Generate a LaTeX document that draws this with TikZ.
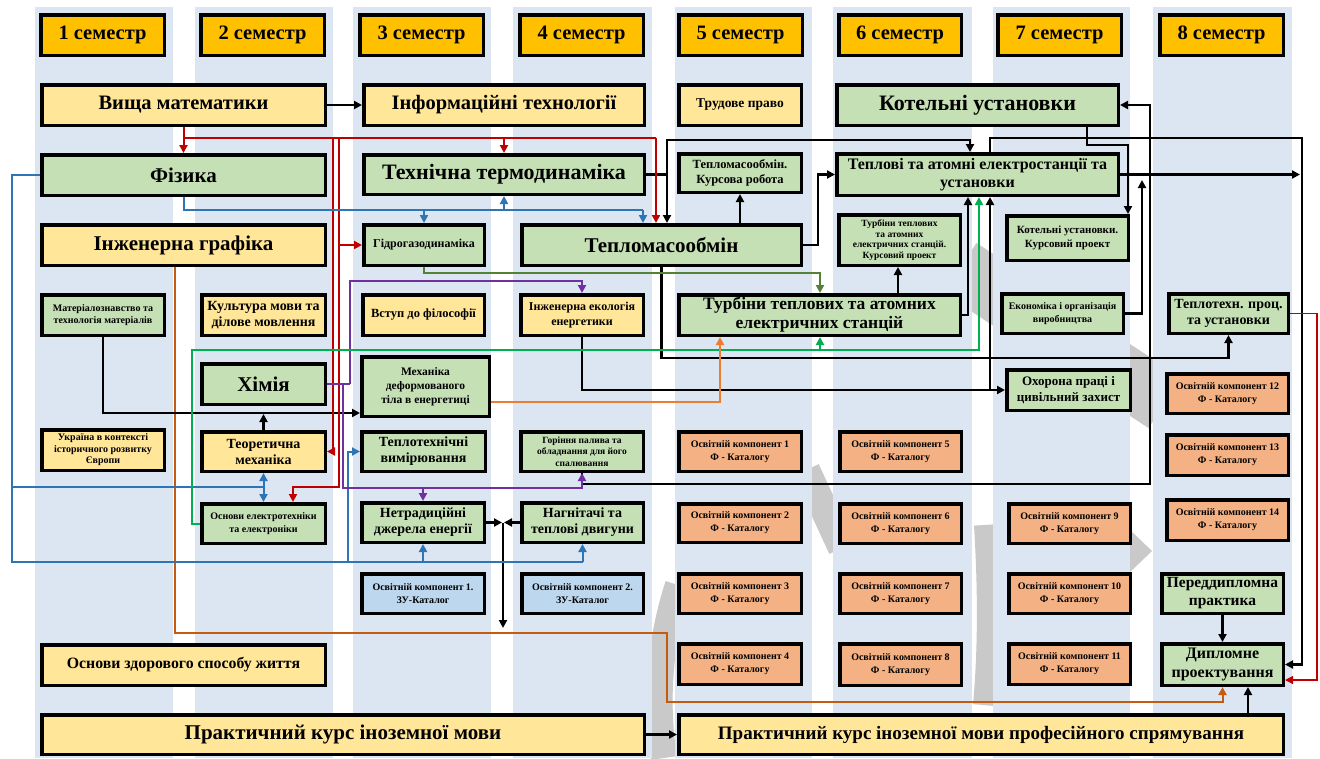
\documentclass[tikz,border=0pt]{standalone}
\usepackage{fontspec}
\setmainfont{Liberation Serif}
\usetikzlibrary{arrows.meta}
\definecolor{stripe}{HTML}{DCE6F2}
\definecolor{hdr}{HTML}{FFC000}
\definecolor{yel}{HTML}{FFE699}
\definecolor{grn}{HTML}{C5E0B4}
\definecolor{org}{HTML}{F4B183}
\definecolor{lbl}{HTML}{BDD7EE}
\definecolor{cred}{HTML}{C00000}
\definecolor{cblue}{HTML}{2E75B6}
\definecolor{cpur}{HTML}{7030A0}
\definecolor{colive}{HTML}{548235}
\definecolor{cgreen}{HTML}{00B050}
\definecolor{corange}{HTML}{ED7D31}
\definecolor{cbrown}{HTML}{C55A11}
\definecolor{wmk}{HTML}{C9C9C9}
\newcommand\mybox[7]{\node[box,#2,minimum width={#5-#3-3.5},minimum height={#6-#4-3.5}] (#1) at ({(#3+#5)/2},{(#4+#6)/2}) {#7};}
\begin{document}
\begin{tikzpicture}[x=1pt,y=-1pt,
  box/.style={draw,line width=3.5pt,align=center,inner sep=1pt,font=\bfseries},
  fs/.style 2 args={font=\bfseries\fontsize{#1}{#2}\selectfont},
  tip/.style={-{Triangle[length=8pt,width=8pt]}},
  k/.style={line width=2.4pt,black},
  r/.style={line width=2pt,cred},
  bl/.style={line width=2pt,cblue},
  pu/.style={line width=2pt,cpur},
  ol/.style={line width=2pt,colive},
  gr/.style={line width=2pt,cgreen},
  orr/.style={line width=2pt,corange},
  br/.style={line width=2pt,cbrown},
  wm/.style={draw=wmk}]
\useasboundingbox (0,0) rectangle (1320,758);
\fill[white] (0,0) rectangle (1320,758);
% watermark pieces (mostly hidden behind stripes)
\draw[wm,line width=26pt] (678,585) .. controls (660,640) and (655,700) .. (664,758);
\draw[wm,line width=28pt] (806,470) -- (842,548);
\draw[wm,line width=60pt] (960,268) -- (1165,403);
\draw[wm,line width=20pt] (984,525) .. controls (988,590) and (988,650) .. (983,705);
\fill[wmk] (1128,528) -- (1152,551) -- (1128,574) -- cycle;
% stripes
\foreach \a/\b in {35/173,195/333,353/491,513/652,675/812,833/972,993/1130,1153/1292}
  \fill[stripe] (\a,7) rectangle (\b,758);
% headers
\mybox{h1}{fill=hdr,fs={20.5}{22}}{39}{13}{166}{57}{1 семестр}
\mybox{h2}{fill=hdr,fs={20.5}{22}}{199}{13}{326}{57}{2 семестр}
\mybox{h3}{fill=hdr,fs={20.5}{22}}{358}{13}{485}{57}{3 семестр}
\mybox{h4}{fill=hdr,fs={20.5}{22}}{518}{13}{645}{57}{4 семестр}
\mybox{h5}{fill=hdr,fs={20.5}{22}}{677}{13}{804}{57}{5 семестр}
\mybox{h6}{fill=hdr,fs={20.5}{22}}{837}{13}{963}{57}{6 семестр}
\mybox{h7}{fill=hdr,fs={20.5}{22}}{996}{13}{1123}{57}{7 семестр}
\mybox{h8}{fill=hdr,fs={20.5}{22}}{1158}{13}{1285}{57}{8 семестр}
% row 1
\mybox{vm}{fill=yel,fs={20.5}{22}}{40}{83}{327}{127}{Вища математики}
\mybox{it}{fill=yel,fs={20.5}{22}}{362}{83}{646}{127}{Інформаційні технології}
\mybox{tp}{fill=yel,fs={13.5}{15}}{677}{83}{803}{127}{Трудове право}
\mybox{ku}{fill=grn,fs={22}{24}}{835}{83}{1120}{127}{Котельні установки}
% row 2
\mybox{fiz}{fill=grn,fs={21}{23}}{40}{153}{327}{197}{Фізика}
\mybox{tt}{fill=grn,fs={22}{24}}{362}{153}{646}{196}{Технічна термодинаміка}
\mybox{tmokr}{fill=grn,fs={12.5}{15}}{677}{152}{803}{194}{Тепломасообмін.\\Курсова робота}
\mybox{taes}{fill=grn,fs={16}{18}}{835}{152}{1120}{197}{Теплові та атомні електростанції та\\установки}
% row 3
\mybox{ig}{fill=yel,fs={21}{23}}{40}{223}{327}{267}{Інженерна графіка}
\mybox{gid}{fill=grn,fs={12}{13}}{362}{223}{486}{267}{Гідрогазодинаміка}
\mybox{tmo}{fill=grn,fs={21}{23}}{520}{223}{803}{267}{Тепломасообмін}
\mybox{tkp}{fill=grn,fs={9.5}{10.5}}{837}{213}{962}{267}{Турбіни теплових\\та атомних\\електричних станцій.\\Курсовий проект}
\mybox{kukp}{fill=grn,fs={11}{14}}{1005}{214}{1130}{262}{Котельні установки.\\Курсовий проект}
% row 4
\mybox{mat}{fill=grn,fs={10}{12.5}}{40}{293}{166}{337}{Матеріалознавство та\\технологія матеріалів}
\mybox{kult}{fill=yel,fs={14}{16}}{200}{293}{327}{337}{Культура мови та\\ділове мовлення}
\mybox{vst}{fill=yel,fs={12.5}{14}}{361}{293}{486}{337}{Вступ до філософії}
\mybox{iee}{fill=yel,fs={12}{14.5}}{519}{293}{645}{337}{Інженерна екологія\\енергетики}
\mybox{turb}{fill=grn,fs={17.5}{19}}{677}{293}{962}{337}{Турбіни теплових та атомних\\електричних станцій}
\mybox{ek}{fill=grn,fs={10}{13}}{1000}{292}{1125}{335}{Економіка і організація\\виробництва}
\mybox{ttpu}{fill=grn,fs={14}{16}}{1167}{292}{1290}{335}{Теплотехн. проц.\\та установки}
% row 5
\mybox{him}{fill=grn,fs={21}{23}}{200}{362}{327}{406}{Хімія}
\mybox{mex}{fill=grn,fs={11.5}{14}}{360}{355}{491}{418}{Механіка\\деформованого\\тіла в енергетиці}
\mybox{ohr}{fill=grn,fs={13}{16}}{1005}{368}{1132}{412}{Охорона праці і\\цивільний захист}
\mybox{ok12}{fill=org,fs={10}{13}}{1165}{372}{1290}{415}{Освітній компонент 12\\Ф - Каталогу}
% row 6
\mybox{ukr}{fill=yel,fs={10}{11.5}}{40}{428}{166}{472}{Україна в контексті\\історичного розвитку\\Європи}
\mybox{tmeh}{fill=yel,fs={14}{16}}{200}{430}{327}{473}{Теоретична\\механіка}
\mybox{tv}{fill=grn,fs={14}{16}}{360}{430}{487}{473}{Теплотехнічні\\вимірювання}
\mybox{gor}{fill=grn,fs={9.5}{11.5}}{519}{430}{645}{473}{Горіння палива та\\обладнання для його\\спалювання}
\mybox{ok1}{fill=org,fs={10}{13}}{677}{430}{803}{473}{Освітній компонент 1\\Ф - Каталогу}
\mybox{ok5}{fill=org,fs={10}{13}}{838}{430}{963}{473}{Освітній компонент 5\\Ф - Каталогу}
\mybox{ok13}{fill=org,fs={10}{13}}{1165}{433}{1290}{477}{Освітній компонент 13\\Ф - Каталогу}
% row 7
\mybox{oe}{fill=grn,fs={10}{12.5}}{200}{502}{327}{545}{Основи електротехніки\\та електроніки}
\mybox{nde}{fill=grn,fs={14}{16}}{360}{501}{486}{544}{Нетрадиційні\\джерела енергії}
\mybox{nag}{fill=grn,fs={14}{16}}{520}{501}{645}{544}{Нагнітачі та\\теплові двигуни}
\mybox{ok2}{fill=org,fs={10}{13}}{677}{502}{803}{544}{Освітній компонент 2\\Ф - Каталогу}
\mybox{ok6}{fill=org,fs={10}{13}}{838}{502}{963}{545}{Освітній компонент 6\\Ф - Каталогу}
\mybox{ok9}{fill=org,fs={10}{13}}{1007}{502}{1132}{545}{Освітній компонент 9\\Ф - Каталогу}
\mybox{ok14}{fill=org,fs={10}{13}}{1165}{498}{1290}{542}{Освітній компонент 14\\Ф - Каталогу}
% row 8
\mybox{zu1}{fill=lbl,fs={10}{13}}{360}{572}{486}{615}{Освітній компонент 1.\\ЗУ-Каталог}
\mybox{zu2}{fill=lbl,fs={10}{13}}{520}{572}{645}{615}{Освітній компонент 2.\\ЗУ-Каталог}
\mybox{ok3}{fill=org,fs={10}{13}}{677}{572}{803}{615}{Освітній компонент 3\\Ф - Каталогу}
\mybox{ok7}{fill=org,fs={10}{13}}{838}{572}{963}{615}{Освітній компонент 7\\Ф - Каталогу}
\mybox{ok10}{fill=org,fs={10}{13}}{1007}{572}{1132}{615}{Освітній компонент 10\\Ф - Каталогу}
\mybox{pp}{fill=grn,fs={15.5}{18}}{1160}{572}{1285}{615}{Переддипломна\\практика}
% row 9
\mybox{ozsj}{fill=yel,fs={15.8}{17}}{40}{643}{327}{687}{Основи здорового способу життя}
\mybox{ok4}{fill=org,fs={10}{13}}{677}{642}{803}{686}{Освітній компонент 4\\Ф - Каталогу}
\mybox{ok8}{fill=org,fs={10}{13}}{838}{642}{963}{687}{Освітній компонент 8\\Ф - Каталогу}
\mybox{ok11}{fill=org,fs={10}{13}}{1007}{642}{1132}{686}{Освітній компонент 11\\Ф - Каталогу}
\mybox{dp}{fill=grn,fs={16}{19}}{1160}{642}{1285}{687}{Дипломне\\проектування}
% row 10
\mybox{pkim}{fill=yel,fs={21}{23}}{40}{713}{646}{756}{Практичний курс іноземної мови}
\mybox{pkimp}{fill=yel,fs={19}{21}}{677}{713}{1285}{756}{Практичний курс іноземної мови професійного спрямування}
% ---------- connectors ----------
% brown: engineering graphics -> diploma
\draw[br,tip] (ig.south -| 175,0) -- (175,633) -- (667,633) -- (667,702) -- (dp.south |- 0,702) -- (dp.south);
% black
\draw[k,tip] (vm.east) -- (it.west);
\draw[k,tip] (tt.east) -- (tt.east -| 667,0) -- (667,0 |- tmo.north);
\draw[k,tip] (tt.east -| 667,0) -- (667,140) -- (970,140) -- (970,0 |- taes.north);
\draw[k,tip] (740,0 |- tmo.north) -- (740,0 |- tmokr.south);
\draw[k,tip] (tmo.east) -- (818,245) -- (818,0 |- taes.west) -- (taes.west);
\draw[k,tip] (tmo.south) -- (tmo.south |- 0,358) -- (ttpu.south |- 0,358) -- (ttpu.south);
\draw[k,tip] (iee.south) -- (iee.south |- 0,390) -- (ohr.west);
\draw[k,tip] (990,390) -- (990,0 |- taes.south);
\draw[k,tip] (898,0 |- turb.north) -- (898,0 |- tkp.south);
\draw[k,tip] (turb.east) -- (turb.east -| 968,0) -- (968,0 |- taes.south);
\draw[k,tip] (990,0 |- taes.north) -- (990,138) -- (1302,138) -- (1302,0 |- dp.east) -- (dp.east);
\coordinate (jr) at (1300,174.5);
\draw[k,tip] (taes.east) -- (jr);
\draw[k,tip] (1087,0 |- ku.south) -- (1087,145) -- (1128,145) -- (1128,0 |- kukp.north);
\draw[k,tip] (gor.south) -- (gor.south |- 0,484) -- (1150,484) -- (1150,0 |- ku.east) -- (ku.east);
\coordinate (je) at (1142,180);
\draw[k,tip] (ek.east) -- (ek.east -| 1142,0) -- (je);
\coordinate (jn) at (503,522.5);
\draw[k,tip] (nde.east) -- ([xshift=-1pt]jn);
\draw[k,tip] (nag.west) -- ([xshift=1pt]jn);
\draw[k,tip] (jn) -- (503,628);
\draw[k,tip] (mat.south) -- (mat.south |- 0,413) -- (mex.west |- 0,413);
\coordinate (jm) at (263.5,414);
\draw[k,tip] (tmeh.north) -- (jm);
\draw[k,tip] (pp.south) -- (dp.north);
\draw[k,tip] (1248,0 |- pkimp.north) -- (1248,0 |- dp.south);
\draw[k,tip] (pkim.east) -- (pkimp.west);
% red
\draw[r,tip] (vm.south) -- (fiz.north);
\draw[r] (vm.south |- 0,138) -- (656,138);
\draw[r,tip] (tt.north |- 0,138) -- (tt.north);
\draw[r,tip] (656,138) -- (656,0 |- tmo.north);
\draw[r,tip] (333,138) -- (333,0 |- tmeh.east) -- (tmeh.east);
\draw[r,tip] (339,138) -- (339,487) -- (293,487) -- (293,0 |- oe.north);
\draw[r,tip] (339,0 |- gid.west) -- (gid.west);
\draw[cred,line width=1.3pt,tip] (ttpu.east) -- (ttpu.east -| 1317,0) -- (1317,680) -- (dp.east |- 0,680);
% blue
\draw[bl] (fiz.west) -- (fiz.west -| 12,0) -- (12,562) -- (nag.south |- 0,562);
\draw[bl,tip] (nde.south |- 0,562) -- (nde.south);
\draw[bl,tip] (nag.south |- 0,562) -- (nag.south);
\draw[bl,tip] (348,562) -- (348,0 |- tv.west) -- (tv.west);
\draw[bl] (12,487) -- (tmeh.south |- 0,487);
\draw[bl,{Triangle[length=8pt,width=8pt]}-{Triangle[length=8pt,width=8pt]}] (tmeh.south) -- (oe.north);
\draw[bl] (fiz.south) -- (fiz.south |- 0,210) -- (643,210);
\draw[bl,tip] (643,210) -- (643,0 |- tmo.north);
\draw[bl,tip] (gid.north |- 0,210) -- (gid.north);
\draw[bl,tip] (tt.south |- 0,210) -- (tt.south);
% olive
\draw[ol,tip] (gid.south) -- (gid.south |- 0,273) -- (820,273) -- (820,0 |- turb.north);
% purple
\draw[pu] (him.east) -- (him.east -| 350,0);
\draw[pu,tip] (him.east -| 350,0) -- (350,281) -- (iee.north |- 0,281) -- (iee.north);
\draw[pu,tip] (him.east -| 343,0) -- (343,488) -- (gor.south |- 0,488) -- (gor.south);
\draw[pu,tip] (nde.north |- 0,488) -- (nde.north);
% green
\draw[gr,tip] (oe.west) -- (oe.west -| 192,0) -- (192,350) -- (979,350) -- (979,0 |- taes.south);
\draw[gr,tip] (820,350) -- (820,0 |- turb.south);
% orange
\draw[orr,tip] (mex.east |- 0,402) -- (720,402) -- (720,0 |- turb.south);
\end{tikzpicture}
\end{document}
